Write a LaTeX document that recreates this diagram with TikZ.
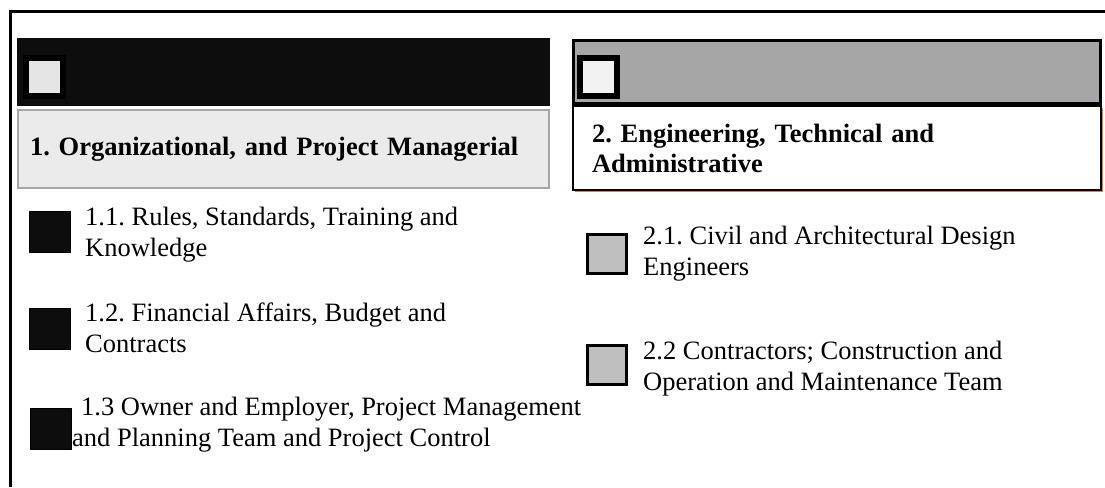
\documentclass[tikz,border=0pt]{standalone}
\usepackage{fontspec}
\setmainfont{Liberation Serif}
\usetikzlibrary{shadows}
\frenchspacing

\definecolor{barblack}{HTML}{0D0D0D}
\definecolor{bargray}{HTML}{A6A6A6}
\definecolor{boxgray}{HTML}{EBEBEB}
\definecolor{sqgray}{HTML}{BFBFBF}
\definecolor{shadeorange}{HTML}{ED7D31}

\begin{document}
\begin{tikzpicture}[x=1pt,y=-1pt,
  bar/.style={rectangle,inner sep=0pt,minimum width=530pt,minimum height=66pt},
  tick/.style={rectangle,draw=black,line width=6pt,minimum size=37pt,inner sep=0pt},
  head/.style={rectangle,inner ysep=0pt,minimum height=80pt,align=left,
    font=\bfseries\fontsize{26.5}{30}\selectfont},
  item/.style={inner sep=0pt,anchor=base west,align=left,
    font=\fontsize{26.5}{31}\selectfont},
  darksq/.style={rectangle,fill=barblack,draw=black,line width=1pt,minimum size=41pt,inner sep=0pt},
  lightsq/.style={rectangle,fill=sqgray,draw=black,line width=3pt,minimum size=39pt,inner sep=0pt}]

  \useasboundingbox (0,0) rectangle (1105,487);
  % outer frame
  \draw[line width=3pt] (1105,11.5) -- (10,11.5) -- (10,487);

  % group 1
  \node[bar,fill=barblack,minimum width=533pt,minimum height=68pt] (barA) at (283.5,72) {};
  \node[tick,fill=black!10] (tickA) at (44,77) {};
  \node[head,fill=boxgray,draw=bargray,line width=2pt,inner xsep=12pt,text width=507pt,
    minimum height=78pt] (boxA) at (283.5,149) {1. Organizational, and Project Managerial};

  \node[darksq] (sqA1) at (50,231.5) {};
  \node[darksq] (sqA2) at (50,328.5) {};
  \node[darksq] (sqA3) at (51,428.5) {};
  \node[item] (txA1) at (85,256) {1.1. Rules, Standards, Training and\\Knowledge};
  \node[item] (txA2) at (85,352) {1.2. Financial Affairs, Budget and\\Contracts};
  \node[item] (txA3) at (72,446) {\hspace*{9pt}1.3 Owner and Employer, Project Management\\and Planning Team and Project Control};

  % group 2
  \node[bar,fill=bargray,draw=black,line width=3pt,minimum width=527pt,minimum height=63pt] (barB) at (837,72) {};
  \node[tick,fill=black!5] (tickB) at (598.5,77) {};
  \node[head,fill=white,draw=black,line width=2pt,inner xsep=19pt,text width=490pt,minimum height=84pt,
    drop shadow={shadow xshift=2pt,shadow yshift=-2pt,fill=shadeorange,opacity=1}]
    (boxB) at (837,148) {2. Engineering, Technical and\\Administrative};

  \node[lightsq] (sqB1) at (607,253.5) {};
  \node[lightsq] (sqB2) at (607,365) {};
  \node[item] (txB1) at (643,275) {2.1. Civil and Architectural Design\\Engineers};
  \node[item] (txB2) at (643,390) {2.2 Contractors; Construction and\\Operation and Maintenance Team};
\end{tikzpicture}
\end{document}
